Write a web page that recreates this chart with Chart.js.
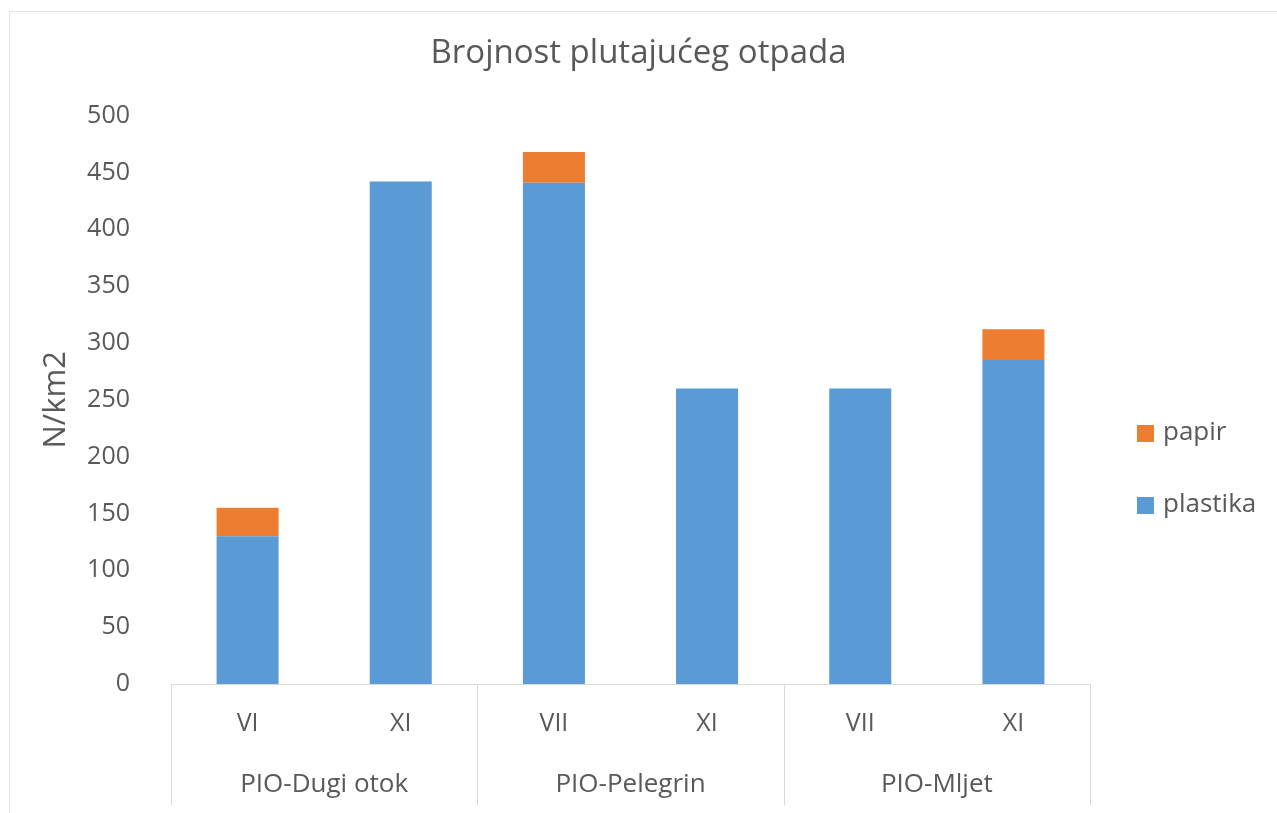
<!DOCTYPE html>
<html>
<head>
<meta charset="utf-8">
<script src="https://cdn.jsdelivr.net/npm/chart.js@4/dist/chart.umd.min.js"></script>
<style>
  html, body { margin: 0; padding: 0; background: #fff; }
  #wrap { position: relative; width: 1277px; height: 813px; }
  #frame { position: absolute; left: 9px; top: 11px; right: 0; bottom: 0;
           border-left: 1px solid #e4e4e4; border-top: 1px solid #e4e4e4; }
  canvas { position: absolute; left: 0; top: 0; }
</style>
</head>
<body>
<div id="wrap">
  <div id="frame"></div>
  <canvas id="chart" width="1277" height="813"></canvas>
</div>
<script>
// data
const months = ['VI', 'XI', 'VII', 'XI', 'VII', 'XI'];
const groups = ['PIO-Dugi otok', 'PIO-Pelegrin', 'PIO-Mljet'];
const barsPerGroup = 2;
const plastika = [130, 442, 441, 260, 260, 285];
const papir = [25, 0, 27, 0, 0, 27];
const yTicks = [0, 50, 100, 150, 200, 250, 300, 350, 400, 450, 500];

const FONT = '"Open Sans", Lato, sans-serif';
const GREY = '#595959';
const LINE = '#d9d9d9';

// two-level category axis + legend on the right
const groupAxis = {
  id: 'groupAxis',
  afterDraw(chart) {
    const ctx = chart.ctx;
    const x = chart.scales.x;
    const area = chart.chartArea;
    const step = (x.right - x.left) / months.length;
    const bottom = area.bottom + 121;

    ctx.save();
    ctx.strokeStyle = LINE;
    ctx.lineWidth = 1;
    ctx.beginPath();
    ctx.moveTo(x.left, area.bottom + 0.5);
    ctx.lineTo(x.right, area.bottom + 0.5);
    for (let g = 0; g <= groups.length; g++) {
      const px = Math.round(x.left + g * barsPerGroup * step) + 0.5;
      ctx.moveTo(px, area.bottom);
      ctx.lineTo(px, bottom);
    }
    ctx.stroke();

    ctx.fillStyle = GREY;
    ctx.textAlign = 'center';
    ctx.textBaseline = 'middle';
    ctx.font = '25px ' + FONT;
    months.forEach((m, i) => {
      ctx.fillText(m, x.getPixelForValue(i), area.bottom + 40);
    });
    ctx.font = '26px ' + FONT;
    groups.forEach((g, i) => {
      const cx = x.left + (i + 0.5) * barsPerGroup * step;
      ctx.fillText(g, cx, area.bottom + 101);
    });

    // legend, papir above plastika
    const items = chart.data.datasets.slice().reverse();
    ctx.textAlign = 'left';
    items.forEach((ds, i) => {
      const y = 433 + i * 72;
      ctx.fillStyle = ds.backgroundColor;
      ctx.fillRect(1137, y - 8, 17, 17);
      ctx.fillStyle = GREY;
      ctx.fillText(ds.label, 1163, y);
    });
    ctx.restore();
  }
};

new Chart(document.getElementById('chart'), {
  type: 'bar',
  data: {
    labels: months,
    datasets: [
      { label: 'plastika', data: plastika, backgroundColor: '#5B9BD5' },
      { label: 'papir', data: papir, backgroundColor: '#ED7D31' }
    ]
  },
  options: {
    responsive: false,
    animation: false,
    layout: { padding: 0 },
    datasets: { bar: { barPercentage: 1, categoryPercentage: 0.405 } },
    plugins: {
      legend: { display: false },
      tooltip: { enabled: false },
      title: {
        display: true,
        text: 'Brojnost plutajućeg otpada',
        color: GREY,
        font: { family: FONT, size: 33, weight: 'normal' },
        padding: { top: 34, bottom: 42 }
      }
    },
    scales: {
      x: {
        stacked: true,
        grid: { display: false },
        border: { display: false },
        ticks: { display: false },
        afterFit: s => { s.height = 129; }
      },
      y: {
        stacked: true,
        min: 0,
        max: 500,
        afterBuildTicks: s => { s.ticks = yTicks.map(v => ({ value: v })); },
        grid: { display: false },
        border: { display: false },
        ticks: {
          color: GREY,
          padding: 33,
          font: { family: FONT, size: 25 }
        },
        title: {
          display: true,
          text: 'N/km2',
          color: GREY,
          font: { family: FONT, size: 31 },
          padding: { top: 38, bottom: 0 }
        },
        afterFit: s => { s.width = 171; }
      },
      // empty scale that keeps room for the legend on the right
      legendSpace: {
        type: 'linear',
        position: 'right',
        grid: { display: false },
        border: { display: false },
        ticks: { display: false },
        afterFit: s => { s.width = 187; }
      }
    }
  },
  plugins: [groupAxis]
});
</script>
</body>
</html>
